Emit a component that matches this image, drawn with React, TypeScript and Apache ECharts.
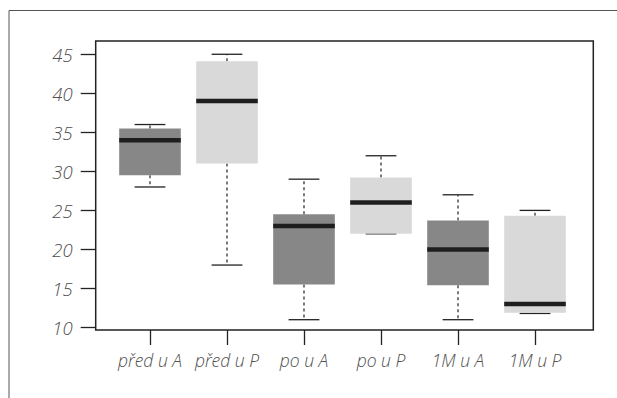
import React, { useEffect, useRef } from "react";
import * as echarts from "echarts";

const categories = ["před u A", "před u P", "po u A", "po u P", "1M u A", "1M u P"];
const groups = ["A", "P", "A", "P", "A", "P"];
const mins = [28, 18, 11, 22, 11, 11.8];
const q1s = [29.5, 31, 15.5, 22, 15.4, 11.9];
const medians = [34, 39, 23, 26, 20, 13];
const q3s = [35.5, 44.1, 24.5, 29.2, 23.7, 24.3];
const maxs = [36, 45, 29, 32, 27, 25];
const yTicks = [10, 15, 20, 25, 30, 35, 40, 45];
const xTicks = [1, 2, 3, 4, 5, 6];

const groupColors: Record<string, string> = { A: "#878787", P: "#d9d9d9" };

export default function App() {
  const ref = useRef<HTMLDivElement>(null);
  useEffect(() => {
    if (!ref.current) return;
    const chart = echarts.init(ref.current, null, { renderer: "svg" });
    const data = categories.map((c, i) => [i + 1, mins[i], q1s[i], medians[i], q3s[i], maxs[i], i]);
    const font = "'Open Sans', sans-serif";
    chart.setOption({
      animation: false,
      backgroundColor: "#ffffff",
      grid: {
        left: 95.7,
        right: 617 - 593.3,
        top: 41,
        bottom: 398 - 330,
        show: true,
        borderColor: "#222222",
        borderWidth: 1.5,
        backgroundColor: "transparent",
      },
      xAxis: {
        type: "value",
        min: 0.295,
        max: 6.757,
        axisLine: { show: false },
        splitLine: { show: false },
        axisTick: {
          show: true,
          length: 15,
          customValues: xTicks,
          lineStyle: { color: "#222", width: 1.3 },
        },
        axisLabel: {
          customValues: xTicks,
          margin: 21,
          formatter: (v: number) => categories[Math.round(v) - 1] ?? "",
          fontFamily: font,
          fontStyle: "italic",
          fontWeight: 300,
          fontSize: 17.5,
          color: "#505050",
        },
      },
      yAxis: {
        type: "value",
        min: 9.68,
        max: 46.7,
        axisLine: { show: false },
        splitLine: { show: false },
        axisTick: {
          show: true,
          length: 15,
          customValues: yTicks,
          lineStyle: { color: "#222", width: 1.3 },
        },
        axisLabel: {
          customValues: yTicks,
          margin: 23,
          fontFamily: font,
          fontStyle: "italic",
          fontWeight: 300,
          fontSize: 18.5,
          color: "#505050",
        },
      },
      graphic: [
        { type: "line", shape: { x1: 9, y1: 10.5, x2: 617, y2: 10.5 }, style: { stroke: "#555", lineWidth: 1 } },
        { type: "line", shape: { x1: 9, y1: 10.5, x2: 9, y2: 398 }, style: { stroke: "#555", lineWidth: 1 } },
      ],
      series: [
        {
          type: "custom",
          data,
          encode: { x: 0, y: [1, 2, 3, 4, 5] },
          renderItem: (params: any, api: any) => {
            const x = api.value(0);
            const mn = api.value(1);
            const q1 = api.value(2);
            const md = api.value(3);
            const q3 = api.value(4);
            const mx = api.value(5);
            const idx = api.value(6);
            const color = groupColors[groups[idx]];
            const [bl, bt] = api.coord([x - 0.4, q3]);
            const [br, bb] = api.coord([x + 0.4, q1]);
            const [cx, yMin] = api.coord([x, mn]);
            const [, yMax] = api.coord([x, mx]);
            const [, yMed] = api.coord([x, md]);
            const [cl] = api.coord([x - 0.2, mn]);
            const [cr] = api.coord([x + 0.2, mn]);
            const dash = { stroke: "#333", lineWidth: 1.3, lineDash: [3, 3] };
            const solid = { stroke: "#222", lineWidth: 1.3 };
            return {
              type: "group",
              children: [
                { type: "line", shape: { x1: cx, y1: bt, x2: cx, y2: yMax }, style: dash },
                { type: "line", shape: { x1: cx, y1: bb, x2: cx, y2: yMin }, style: dash },
                { type: "line", shape: { x1: cl, y1: yMax, x2: cr, y2: yMax }, style: solid },
                { type: "line", shape: { x1: cl, y1: yMin, x2: cr, y2: yMin }, style: solid },
                { type: "rect", shape: { x: bl, y: bt, width: br - bl, height: bb - bt }, style: { fill: color } },
                { type: "line", shape: { x1: bl, y1: yMed, x2: br, y2: yMed }, style: { stroke: "#1e1e1e", lineWidth: 4.5 } },
              ],
            };
          },
        },
      ],
    });
    return () => chart.dispose();
  }, []);
  return <div ref={ref} style={{ width: 617, height: 398, position: "absolute", left: 0, top: 0 }} />;
}
